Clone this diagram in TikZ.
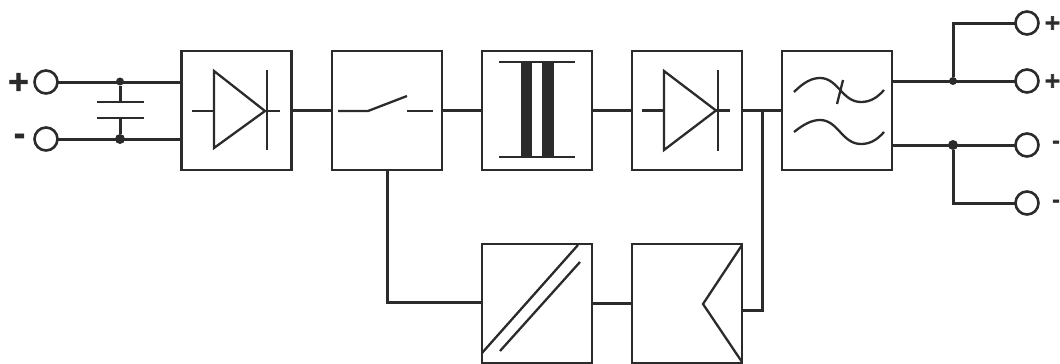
\documentclass[tikz,border=0pt]{standalone}
\usepackage{fontspec}
\setmainfont{DejaVu Sans}
\newfontfamily\signfont{DejaVu Sans Bold}[FakeBold=3]
\definecolor{ink}{HTML}{2B2B2B}
\tikzset{
  block/.style={draw=ink,line width=2.7pt,minimum width=110pt,minimum height=119pt,inner sep=0pt,outer sep=0pt,shape=rectangle},
  term/.style={circle,draw=ink,line width=2.6pt,minimum size=23pt,inner sep=0pt,outer sep=0pt,fill=white},
  dotj/.style={circle,fill=ink,minimum size=10pt,inner sep=0pt,outer sep=0pt},
  wire/.style={draw=ink,line width=3pt},
  sym/.style={draw=ink,line width=2.3pt},
  sign/.style={font=\signfont\fontsize{28pt}{28pt}\selectfont,text=ink,inner sep=0pt},
  signsmall/.style={font=\signfont\fontsize{21pt}{21pt}\selectfont,text=ink,inner sep=0pt},
  dashsmall/.style={font=\signfont\fontsize{18pt}{18pt}\selectfont,text=ink,inner sep=0pt}
}
\begin{document}
\begin{tikzpicture}[x=1pt,y=-1pt]
\useasboundingbox (0,0) rectangle (1060,364);
% blocks
\node[block] (b1) at (236.5,110.5) {};
\node[block] (b2) at (387,110.5) {};
\node[block] (b3) at (537,110.5) {};
\node[block] (b4) at (687,110.5) {};
\node[block] (b5) at (837,110.5) {};
\node[block] (b6) at (537,303.5) {};
\node[block] (b7) at (687,303.5) {};
% terminals
\node[term] (ip) at (46,82) {};
\node[term] (in) at (46,139) {};
\node[term] (o1) at (1027,23) {};
\node[term] (o2) at (1027,81) {};
\node[term] (o3) at (1027,145) {};
\node[term] (o4) at (1027,203) {};
\node[sign] (lip) at (18.5,82) {+};
\node[sign] (lin) at (19.5,139) {-};
\node[signsmall] (lo1) at (1052.5,23) {+};
\node[signsmall] (lo2) at (1052.5,81) {+};
\node[dashsmall] (lo3) at (1056,144) {-};
\node[dashsmall] (lo4) at (1056,203) {-};
% input wires and capacitor
\coordinate (b1a) at (b1.west |- ip);
\coordinate (b1b) at (b1.west |- in);
\draw[wire] (ip) -- (b1a);
\draw[wire] (in) -- (b1b);
\node[dotj,minimum size=8pt] (j1) at (120,81.5) {};
\node[dotj] (j2) at (120,139) {};
\coordinate (c1) at (120,102);
\coordinate (c2) at (120,118);
\draw[wire] (j1) -- (c1);
\draw[wire] (j2) -- (c2);
\draw[sym,line width=2.8pt] (97,102) -- (144,102);
\draw[sym,line width=2.8pt] (97,118) -- (144,118);
% chain
\draw[wire] (b1) -- (b2);
\draw[wire] (b2) -- (b3);
\draw[wire] (b3) -- (b4);
\draw[wire] (b4) -- (b5);
% diode 1
\draw[sym,line join=miter] (214,71) -- (214,148) -- (265,111) -- cycle;
\draw[sym] (267,70) -- (267,150);
\draw[sym] (192,111) -- (214,111);
\draw[sym] (265,111) -- (280,111);
% switch
\draw[sym] (338,111) -- (368,111) -- (407,96);
\draw[sym] (407,111) -- (433,111);
% transformer
\draw[sym] (499,62) -- (575,62);
\draw[sym] (499,157) -- (575,157);
\fill[ink] (521,62) rectangle (532,158);
\fill[ink] (542,62) rectangle (554,158);
% diode 2
\draw[sym,line join=miter] (664,71) -- (664,150) -- (716,110.5) -- cycle;
\draw[sym] (718,70) -- (718,151);
\draw[sym] (642,110.5) -- (664,110.5);
\draw[sym] (716,110.5) -- (730,110.5);
% filter
\draw[sym] (794,92) .. controls (804,82) and (812,78) .. (820,78) .. controls (838,78) and (842,102) .. (861,102) .. controls (870,102) and (877,98) .. (884,90);
\draw[sym] (794,132) .. controls (804,124) and (812,120) .. (820,120) .. controls (838,120) and (842,144) .. (861,144) .. controls (870,144) and (877,140) .. (884,132);
\draw[sym] (843,80) -- (837,104);
% outputs
\coordinate (b5a) at (b5.east |- o2);
\coordinate (b5b) at (b5.east |- o3);
\draw[wire] (b5a) -- (o2);
\draw[wire] (b5b) -- (o3);
\node[dotj,minimum size=8pt] (j3) at (953,81) {};
\node[dotj] (j4) at (953,145) {};
\draw[wire] (j3) |- (o1);
\draw[wire] (j4) |- (o4);
% auxiliary path
\coordinate (b6a) at (b6.west |- 0,302);
\draw[wire] (b2.south) |- (b6a);
\draw[wire] (b6) -- (b7);
\coordinate (b7a) at (b7.east |- 0,310);
\coordinate (fb) at (762,110.5);
\draw[wire,line join=miter] (b7a) -| (fb);
% converter symbols
\draw[sym] (482,353) -- (578,245);
\draw[sym] (500,351) -- (580,262);
\draw[sym,line join=miter] (742,245) -- (703,304) -- (742,362);
\end{tikzpicture}
\end{document}
